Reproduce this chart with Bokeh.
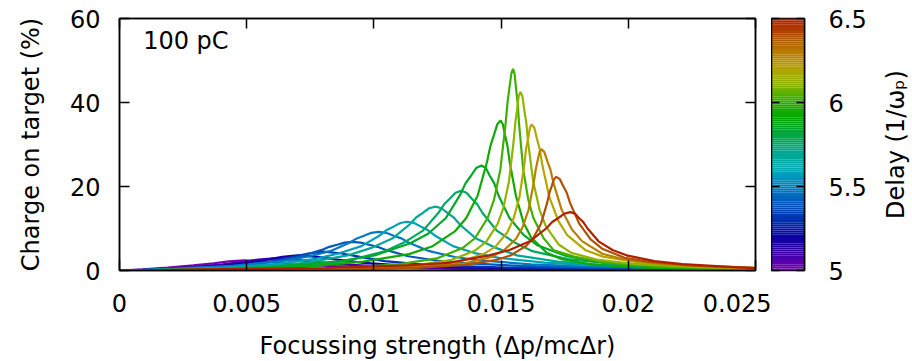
import numpy as np
from bokeh.plotting import figure
from bokeh.layouts import row
from bokeh.models import FixedTicker, LinearAxis, Label, Range1d
from bokeh.embed import file_html
from bokeh.resources import INLINE

FONT = "DejaVu Sans"
FS = "24px"

# ---------------- data ----------------
delays = [5.0, 5.094, 5.188, 5.281, 5.375, 5.469, 5.563, 5.656, 5.75,
          5.844, 5.938, 6.031, 6.125, 6.219, 6.313, 6.406, 6.5]
curve_colors = ["#7800B4", "#4A00AC", "#1800A8", "#0030B4", "#0058BE", "#0078C4",
                "#00A0B8", "#00A898", "#00A860", "#00A828", "#10AA00", "#40B000",
                "#90B400", "#B4A800", "#B88000", "#B05000", "#B02000"]

focus_00 = [0, .0009, .0019, .0029, .0037, .0043, .0049, .00574, .00658, .0077, .0091, .0105, .0133, .0161, .0217, .025]
charge_00 = [0, .29, .72, 1.2, 1.73, 2.16, 2.4, 2.16, 1.73, 1.2, .84, .62, .38, .26, .14, .1]
focus_01 = [0, .001, .00205, .00305, .00405, .00485, .00545, .00605, .00686, .00767, .00875, .0101, .01145, .01415, .01685, .02225, .025]
charge_01 = [0, .1, .58, .93, 1.45, 2.09, 2.61, 2.9, 2.61, 2.09, 1.45, 1.02, .75, .46, .32, .17, .13]
focus_02 = [0, .001, .003, .004, .005, .0058, .0064, .007, .00778, .00856, .0096, .0109, .0122, .0148, .0174, .0226, .025]
charge_02 = [0, .1, .72, 1.15, 1.8, 2.59, 3.24, 3.6, 3.24, 2.59, 1.8, 1.26, .94, .58, .4, .22, .17]
focus_03 = [0, .001, .00202, .00402, .00502, .00602, .00682, .00742, .00802, .00874, .00946, .01042, .01162, .01282, .01522, .01762, .02242, .025]
charge_03 = [0, .12, .36, .9, 1.44, 2.25, 3.24, 4.05, 4.5, 4.05, 3.24, 2.25, 1.58, 1.17, .72, .5, .27, .2]
focus_04 = [0, .00115, .00315, .00515, .00615, .00715, .00795, .00825, .00855, .00885, .00915, .00948, .00981, .01014, .01047, .01135, .01245, .01355, .01575, .01795, .02235, .025]
charge_04 = [0, .2, .54, 1.36, 2.18, 3.4, 4.9, 5.64, 6.12, 6.63, 6.8, 6.63, 6.12, 5.64, 4.9, 3.4, 2.38, 1.77, 1.09, .75, .41, .3]
focus_05 = [0, .001, .00258, .00448, .00638, .00733, .00828, .00904, .00933, .00961, .0099, .01018, .01048, .01078, .01108, .01138, .01218, .01318, .01418, .01618, .01818, .02218, .025]
charge_05 = [0, .15, .55, 1.1, 2.21, 3.22, 4.6, 6.62, 7.64, 8.28, 8.97, 9.2, 8.97, 8.28, 7.64, 6.62, 4.6, 3.22, 2.39, 1.47, 1.01, .55, .4]
focus_06 = [0, .0015, .00411, .00591, .00771, .00861, .00951, .01023, .0105, .01077, .01104, .01131, .01158, .01185, .01212, .01239, .01311, .01401, .01491, .01671, .01851, .02211, .025]
charge_06 = [0, .15, .7, 1.39, 2.78, 4.06, 5.8, 8.35, 9.63, 10.44, 11.31, 11.6, 11.31, 10.44, 9.63, 8.35, 5.8, 4.06, 3.02, 1.86, 1.28, .7, .5]
focus_07 = [0, .00222, .00562, .00732, .00902, .00987, .01072, .0114, .01166, .01191, .01217, .01242, .01266, .0129, .01314, .01338, .01402, .01482, .01562, .01722, .01882, .02202, .025]
charge_07 = [0, .3, .91, 1.82, 3.65, 5.32, 7.6, 10.94, 12.62, 13.68, 14.82, 15.2, 14.82, 13.68, 12.62, 10.94, 7.6, 5.32, 3.6, 2.1, 1.4, .75, .5]
focus_08 = [0, .002, .00443, .00743, .00893, .01043, .01118, .01193, .01253, .01276, .01298, .01321, .01343, .01364, .01385, .01406, .01427, .01483, .01553, .01623, .01763, .01903, .02183, .025]
charge_08 = [0, .1, .38, 1.14, 2.28, 4.56, 6.65, 9.5, 13.68, 15.77, 17.1, 18.53, 19, 18.53, 17.1, 15.77, 13.68, 9.5, 6.65, 4.6, 2.7, 1.8, .95, .55]
focus_09 = [0, .0025, .00583, .00863, .01003, .01143, .01213, .01283, .01339, .0136, .01381, .01402, .01423, .0144, .01456, .01473, .01489, .01533, .01588, .01643, .01753, .01863, .02083, .02413, .025]
charge_09 = [0, .12, .8, 2.2, 3.6, 6.5, 8.75, 12.5, 18, 20.75, 22.5, 24.38, 25, 24.38, 22.5, 20.75, 18, 12.5, 8.5, 6.0, 3.5, 2.3, 1.2, .6, .55]
focus_10 = [0, .00328, .00688, .00958, .01138, .01228, .01318, .01363, .01408, .01444, .01458, .01471, .01485, .01498, .01507, .01516, .01525, .01534, .01558, .01588, .01618, .01678, .01738, .01858, .02038, .02338, .025]
charge_10 = [0, .3, .7, 2.1, 3.9, 5.7, 9.3, 12.5, 17.85, 25.7, 29.63, 32.1, 34.81, 35.7, 34.81, 32.1, 29.63, 25.7, 17.85, 11.4, 7.85, 4.28, 2.68, 1.43, .71, .29, .22]
focus_11 = [0, .004, .00847, .01097, .01247, .01347, .01397, .01447, .01472, .01497, .01517, .01525, .01532, .0154, .01547, .01553, .01559, .01565, .01571, .01587, .01607, .01627, .01667, .01707, .01787, .01907, .02107, .025]
charge_11 = [0, .1, .5, 1.44, 2.88, 5.28, 7.68, 12.5, 16.8, 24, 34.6, 39.84, 43.2, 46.8, 48, 46.8, 43.2, 39.84, 34.6, 24, 16.8, 12.5, 7.7, 4.8, 3.3, 1.9, 1.0, .45]
focus_12 = [0, .0045, .00946, .01171, .01306, .01396, .01441, .01486, .01509, .01531, .01549, .01556, .01563, .01569, .01576, .01584, .01591, .01599, .01606, .01626, .01651, .01676, .01726, .01776, .01876, .02026, .02276, .025]
charge_12 = [0, .1, .42, 1.28, 2.55, 4.68, 6.8, 11.05, 14.9, 21.25, 30.6, 35.28, 38.25, 41.44, 42.5, 41.44, 38.25, 35.28, 30.6, 21.25, 14.5, 10.5, 6.2, 4.2, 2.6, 1.5, .8, .45]
focus_13 = [0, .005, .00948, .01188, .01332, .01428, .01476, .01524, .01548, .01572, .01591, .01598, .01606, .01613, .0162, .01631, .01641, .01652, .01662, .0169, .01725, .0176, .0183, .019, .0204, .0225, .025]
charge_13 = [0, .1, .35, 1.04, 2.09, 3.83, 5.57, 9.05, 12.2, 17.4, 25.1, 28.88, 31.3, 33.93, 34.8, 33.93, 31.3, 28.88, 25.1, 17.4, 11.8, 8.4, 4.9, 3.3, 1.9, 1.05, .5]
focus_14 = [0, .005, .00958, .01208, .01358, .01458, .01508, .01558, .01583, .01608, .01628, .01636, .01643, .01651, .01658, .0167, .01682, .01694, .01706, .01738, .01778, .01818, .01898, .01978, .02138, .02378, .025]
charge_14 = [0, .08, .29, .87, 1.73, 3.18, 4.62, 7.51, 10.1, 14.45, 20.8, 23.99, 26, 28.18, 28.9, 28.18, 26, 23.99, 20.8, 14.45, 9.8, 7.0, 4.0, 2.7, 1.5, .75, .6]
focus_15 = [0, .005, .00877, .01177, .01357, .01477, .01537, .01597, .01627, .01657, .01681, .0169, .01699, .01708, .01717, .01731, .01744, .01758, .01771, .01807, .01852, .01897, .01987, .02077, .02257, .025]
charge_15 = [0, .07, .22, .67, 1.34, 2.45, 3.57, 5.8, 7.8, 11.15, 16.1, 18.51, 20.1, 21.74, 22.3, 21.74, 20.1, 18.51, 16.1, 11.15, 7.4, 5.2, 3.0, 2.1, 1.15, .65]
focus_16 = [0, .00333, .00813, .01133, .01293, .01453, .01533, .01613, .01677, .01701, .01725, .01749, .01773, .0179, .01806, .01823, .0184, .01883, .01938, .01993, .02103, .02213, .02433, .025]
charge_16 = [0, .25, .6, 1.2, 1.8, 3.61, 4.87, 6.95, 10.0, 11.54, 12.5, 13.55, 13.9, 13.55, 12.5, 11.54, 10.0, 6.95, 4.87, 3.61, 2.22, 1.53, .75, .55]

curves = [(focus_00, charge_00), (focus_01, charge_01), (focus_02, charge_02),
          (focus_03, charge_03), (focus_04, charge_04), (focus_05, charge_05),
          (focus_06, charge_06), (focus_07, charge_07), (focus_08, charge_08),
          (focus_09, charge_09), (focus_10, charge_10), (focus_11, charge_11),
          (focus_12, charge_12), (focus_13, charge_13), (focus_14, charge_14),
          (focus_15, charge_15), (focus_16, charge_16)]

x_tick_values = [0, 0.005, 0.01, 0.015, 0.02, 0.025]
x_tick_labels = ["0", "0.005", "0.01", "0.015", "0.02", "0.025"]
y_tick_values = [0, 20, 40, 60]
y_tick_labels = ["0", "20", "40", "60"]
cb_tick_values = [5, 5.5, 6, 6.5]
cb_tick_labels = ["5", "5.5", "6", "6.5"]
cb_title = "Delay (1/ωₚ)"

# colour-bar anchor colours
cb_anchor_delays = [5.0, 5.1, 5.2, 5.3, 5.4, 5.5, 5.6, 5.7, 5.8, 5.9, 6.0, 6.1, 6.2, 6.3, 6.4, 6.5]
cb_anchor_colors = ["#7800B4", "#3C00AA", "#0A00A4", "#0030B0", "#0058BC", "#0080C4",
                    "#00AAB4", "#00A894", "#00A848", "#00A800", "#28AC00", "#88B400",
                    "#B4A400", "#B87C00", "#B04C00", "#B02000"]


def style_axis(ax, ticks, labels, show_labels=True, tick_in=10):
    ax.ticker = FixedTicker(ticks=ticks)
    ax.major_label_overrides = {t: l for t, l in zip(ticks, labels)}
    ax.minor_tick_line_color = None
    ax.major_tick_in = tick_in
    ax.major_tick_out = 0
    ax.major_tick_line_color = "black"
    ax.major_tick_line_width = 1.5
    ax.axis_line_color = "black"
    ax.axis_line_width = 1.5
    ax.major_label_text_font = FONT
    ax.axis_label_text_font = FONT
    ax.axis_label_text_font_size = FS
    ax.axis_label_text_font_style = "normal"
    ax.axis_label_text_color = "black"
    if show_labels:
        ax.major_label_text_font_size = FS
        ax.major_label_text_color = "black"
    else:
        ax.major_label_text_font_size = "0px"
        ax.major_label_text_color = None
        ax.major_label_text_alpha = 0
        ax.major_label_standoff = 0


p = figure(frame_width=636, frame_height=252,
           x_range=Range1d(0, 0.025), y_range=Range1d(0, 60),
           min_border_left=119, min_border_right=16, min_border_top=18, min_border_bottom=91,
           output_backend="svg", toolbar_location=None,
           x_axis_label="Focussing strength (Δp/mcΔr)",
           y_axis_label="Charge on target (%)")
p.grid.visible = False
p.outline_line_color = "black"
p.outline_line_width = 1.5
p.background_fill_color = "white"
p.border_fill_color = "white"

style_axis(p.xaxis[0], x_tick_values, x_tick_labels)
p.xaxis[0].major_label_standoff = 23
p.xaxis[0].axis_label_standoff = 17
style_axis(p.yaxis[0], y_tick_values, y_tick_labels)
p.yaxis[0].major_label_standoff = 19
p.yaxis[0].axis_label_standoff = 22

top_ax = LinearAxis()
style_axis(top_ax, x_tick_values, x_tick_labels, show_labels=False)
p.add_layout(top_ax, "above")
right_ax = LinearAxis()
style_axis(right_ax, y_tick_values, y_tick_labels, show_labels=False)
p.add_layout(right_ax, "right")

for (fx, cy), col in zip(curves, curve_colors):
    p.line(fx, cy, line_color=col, line_width=2.2)

p.add_layout(Label(x=0.00093, y=54.6, text="100 pC", text_font=FONT, text_font_size=FS,
                   text_align="left", text_baseline="middle", text_color="black"))

# ---------------- colour bar ----------------
n_bands = 120
edges = np.linspace(cb_anchor_delays[0], cb_anchor_delays[-1], n_bands + 1)
mids = 0.5 * (edges[:-1] + edges[1:])
anchor_rgb = np.array([[int(c[i:i + 2], 16) for i in (1, 3, 5)] for c in cb_anchor_colors], float)
band_colors = []
for m in mids:
    rgb = [int(round(np.interp(m, cb_anchor_delays, anchor_rgb[:, k]))) for k in range(3)]
    band_colors.append("#%02x%02x%02x" % tuple(rgb))

cb = figure(frame_width=33, frame_height=252,
            x_range=Range1d(0, 1), y_range=Range1d(5, 6.5),
            min_border_left=0, min_border_right=66, min_border_top=18, min_border_bottom=91,
            output_backend="svg", toolbar_location=None,
            x_axis_location=None, y_axis_location="right")
cb.grid.visible = False
cb.outline_line_color = "black"
cb.outline_line_width = 1.5
cb.quad(left=0, right=1, bottom=edges[:-1], top=edges[1:], fill_color=band_colors, line_color=None)
style_axis(cb.yaxis[0], cb_tick_values, cb_tick_labels, tick_in=8)
cb.yaxis[0].major_label_standoff = 24
cb_left = LinearAxis()
style_axis(cb_left, cb_tick_values, cb_tick_labels, show_labels=False, tick_in=8)
cb.add_layout(cb_left, "left")

# colour-bar title: a left axis label of a thin figure to the right (reads bottom-to-top)
tp = figure(frame_width=1, frame_height=252,
            x_range=Range1d(0, 1), y_range=Range1d(5, 6.5),
            min_border_left=40, min_border_right=1, min_border_top=18, min_border_bottom=91,
            output_backend="svg", toolbar_location=None,
            x_axis_location=None, y_axis_location="left", y_axis_label=cb_title)
tp.grid.visible = False
tp.outline_line_color = None
tp.background_fill_color = None
tp.border_fill_color = None
ta = tp.yaxis[0]
ta.ticker = FixedTicker(ticks=[])
ta.axis_line_color = None
ta.major_tick_line_color = None
ta.minor_tick_line_color = None
ta.major_label_text_font_size = "0px"
ta.major_label_text_color = None
ta.major_label_standoff = 0
ta.axis_label_standoff = 1
ta.axis_label_text_font = FONT
ta.axis_label_text_font_size = FS
ta.axis_label_text_font_style = "normal"
ta.axis_label_text_color = "black"

layout = row(p, cb, tp)
open("out.html", "w").write(file_html(layout, INLINE))
